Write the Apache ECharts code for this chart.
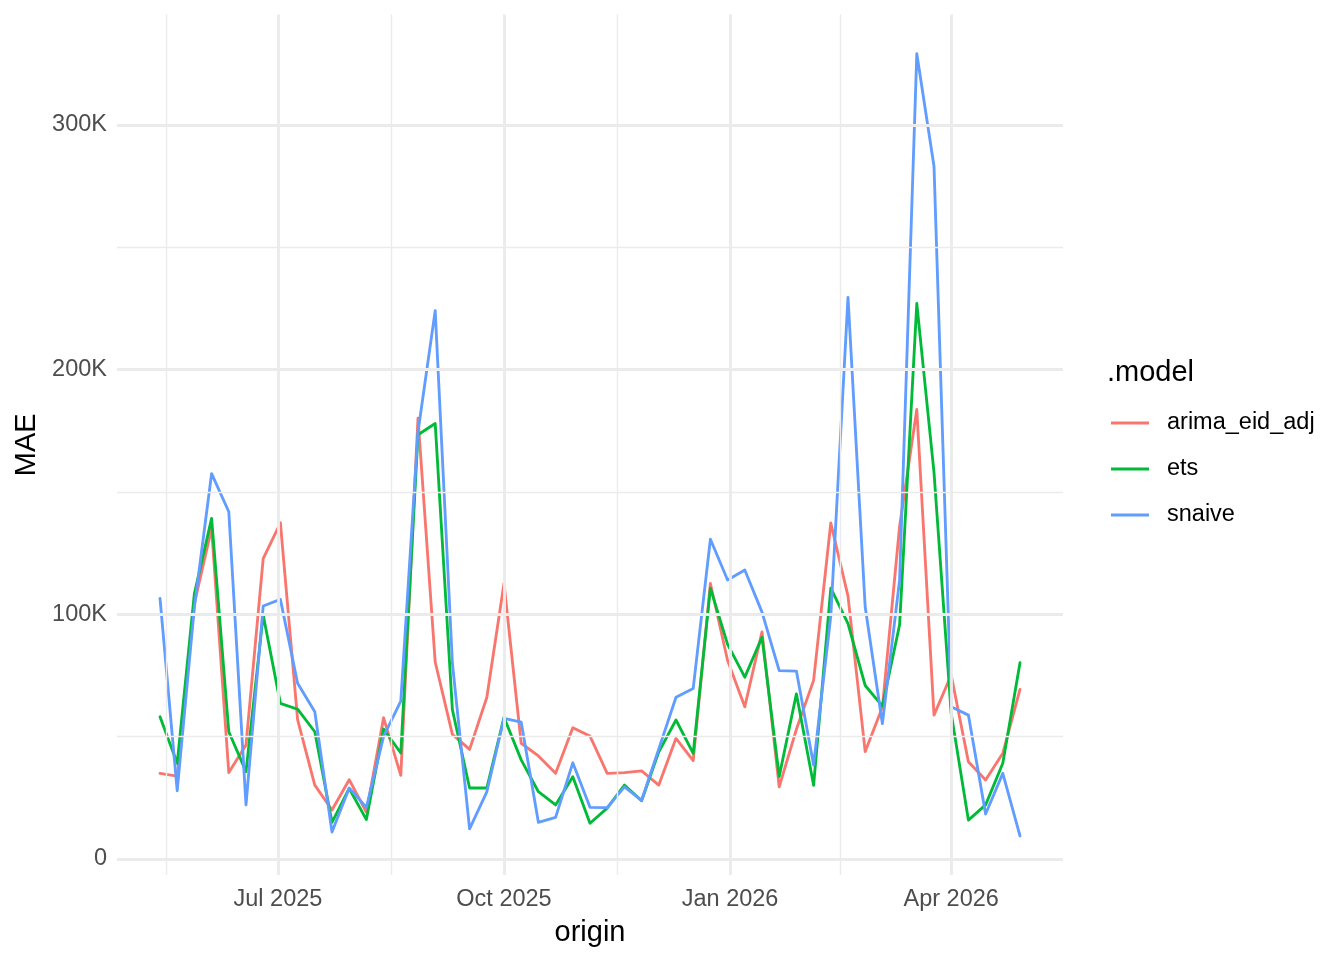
<!DOCTYPE html>
<html>
<head>
<meta charset="utf-8">
<script src="https://cdn.jsdelivr.net/npm/echarts@6/dist/echarts.min.js"></script>
<style>
html,body{margin:0;padding:0;background:#fff;}
#chart{width:1344px;height:960px;}
</style>
</head>
<body>
<div id="chart"></div>
<script>
// ---- data ----
const origins = [
  "2025-05-14","2025-05-21","2025-05-28","2025-06-04","2025-06-11","2025-06-18","2025-06-25",
  "2025-07-02","2025-07-09","2025-07-16","2025-07-23","2025-07-30","2025-08-06","2025-08-13",
  "2025-08-20","2025-08-27","2025-09-03","2025-09-10","2025-09-17","2025-09-24","2025-10-01",
  "2025-10-08","2025-10-15","2025-10-22","2025-10-29","2025-11-05","2025-11-12","2025-11-19",
  "2025-11-26","2025-12-03","2025-12-10","2025-12-17","2025-12-24","2025-12-31","2026-01-07",
  "2026-01-14","2026-01-21","2026-01-28","2026-02-04","2026-02-11","2026-02-18","2026-02-25",
  "2026-03-04","2026-03-11","2026-03-18","2026-03-25","2026-04-01","2026-04-08","2026-04-15",
  "2026-04-22","2026-04-29"
];
const arima_eid_adj = [
  35000,33900,104400,135100,35300,46600,122800,137400,57000,30200,20000,32400,19100,57700,
  34200,180200,80500,50900,44800,66000,112600,47300,42100,35000,53600,50200,35000,35300,
  36000,30200,49300,40200,112600,81100,62200,92800,29500,53000,73000,137300,107400,43900,
  62000,136000,183700,58800,75200,39700,32300,43200,69300
];
const ets = [
  58100,39100,108500,139200,52000,35700,99700,63600,61200,52000,15000,28800,16100,53100,
  43300,173400,178000,61000,29000,29000,57900,40500,27500,22100,33600,14600,20800,30200,
  23800,43800,56800,43200,110700,87700,74300,90600,33700,67500,30100,110700,96200,70900,
  62500,95700,227000,158000,59500,15900,22100,39100,80200
];
const snaive = [
  106500,27900,103000,157500,141900,22100,103400,106100,71800,60200,11000,29000,21100,50100,
  64500,174500,224100,80000,12300,27400,57500,55900,15000,17000,39300,21100,21000,29500,
  24000,45000,66100,69700,130700,114000,118100,100900,77000,76800,38400,99400,229500,103000,
  55300,114000,329100,283100,62200,58800,18400,35000,9400
];
const seriesNames = ["arima_eid_adj","ets","snaive"];
const seriesColors = ["#F8766D","#00BA38","#619CFF"];
const xBreaks = ["2025-07-01","2025-10-01","2026-01-01","2026-04-01"];
const xBreakLabels = ["Jul 2025","Oct 2025","Jan 2026","Apr 2026"];
const xMinorBreaks = ["2025-05-16T12:00","2025-08-16","2025-11-16","2026-02-15"];
const yBreaks = [0,100000,200000,300000];
const yBreakLabels = ["0","100K","200K","300K"];
const yMinorBreaks = [50000,150000,250000];

// ---- helpers ----
function ts(s){
  const [d,t] = s.split("T");
  const [y,m,dd] = d.split("-").map(Number);
  let h = 0, mi = 0;
  if (t){ [h,mi] = t.split(":").map(Number); }
  return Date.UTC(y,m-1,dd,h,mi);
}
const xs = origins.map(ts);
const allSeries = [arima_eid_adj, ets, snaive];
const allVals = allSeries.flat();
const yLo = Math.min(...allVals), yHi = Math.max(...allVals);
const yPad = (yHi - yLo) * 0.05;
const xLo = Math.min(...xs), xHi = Math.max(...xs);
const xPad = (xHi - xLo) * 0.05;

const FONT = "'Liberation Sans', Arial, Helvetica, sans-serif";
const MAJOR_W = 2.85, MINOR_W = 1.4, GRID_C = "#EBEBEB";

const gridLines = [];
xBreaks.forEach(b => gridLines.push({xAxis: ts(b), lineStyle:{width:MAJOR_W}}));
xMinorBreaks.forEach(b => gridLines.push({xAxis: ts(b), lineStyle:{width:MINOR_W}}));
yBreaks.forEach(b => gridLines.push({yAxis: b, lineStyle:{width:MAJOR_W}}));
yMinorBreaks.forEach(b => gridLines.push({yAxis: b, lineStyle:{width:MINOR_W}}));

const chart = echarts.init(document.getElementById('chart'), null, {renderer:'canvas'});
const option = {
  animation: false,
  backgroundColor: '#ffffff',
  textStyle: {fontFamily: FONT},
  title: {
    text: '.model', left: 1102, top: 353,
    textStyle: {fontSize: 29, fontWeight: 'normal', color: '#000', fontFamily: FONT}
  },
  legend: {
    data: seriesNames,
    orient: 'vertical',
    left: 1106, top: 406,
    icon: 'rect',
    itemWidth: 38, itemHeight: 3,
    itemGap: 22,
    textStyle: {fontSize: 23.5, color: '#000', fontFamily: FONT, padding: [0,0,0,13]}
  },
  grid: {left: 117, top: 14.6, width: 946, height: 860.5, containLabel: false},
  xAxis: {
    type: 'value',
    min: xLo - xPad, max: xHi + xPad,
    name: 'origin', nameLocation: 'middle', nameGap: 43,
    nameTextStyle: {fontSize: 29, color: '#000', fontFamily: FONT},
    axisLine: {show:false}, axisTick: {show:false}, splitLine: {show:false},
    axisLabel: {
      customValues: xBreaks.map(ts),
      formatter: v => { const i = xBreaks.map(ts).indexOf(v); return i >= 0 ? xBreakLabels[i] : ''; },
      fontSize: 23.5, color: '#4D4D4D', margin: 12, fontFamily: FONT
    }
  },
  yAxis: {
    type: 'value',
    min: yLo - yPad, max: yHi + yPad,
    name: 'MAE', nameLocation: 'middle', nameGap: 74,
    nameTextStyle: {fontSize: 29, color: '#000', fontFamily: FONT},
    axisLine: {show:false}, axisTick: {show:false}, splitLine: {show:false},
    axisLabel: {
      customValues: yBreaks,
      formatter: v => { const i = yBreaks.indexOf(v); return i >= 0 ? yBreakLabels[i] : ''; },
      fontSize: 23.5, color: '#4D4D4D', margin: 10, fontFamily: FONT,
      padding: [4,0,0,0]
    }
  },
  series: [
    {
      name: '__grid', type: 'line', data: [], z: 1, silent: true,
      markLine: {
        silent: true, symbol: ['none','none'], label: {show:false},
        lineStyle: {color: GRID_C, type: 'solid'},
        emphasis: {disabled: true},
        animation: false,
        data: gridLines
      }
    },
    ...allSeries.map((vals, k) => ({
      name: seriesNames[k], type: 'line', z: 2 + k,
      data: vals.map((v, i) => [xs[i], v]),
      showSymbol: false, symbol: 'none',
      lineStyle: {color: seriesColors[k], width: 2.85, join: 'round', cap: 'round'},
      itemStyle: {color: seriesColors[k]},
      emphasis: {disabled: true}
    }))
  ]
};
chart.setOption(option);
</script>
</body>
</html>
